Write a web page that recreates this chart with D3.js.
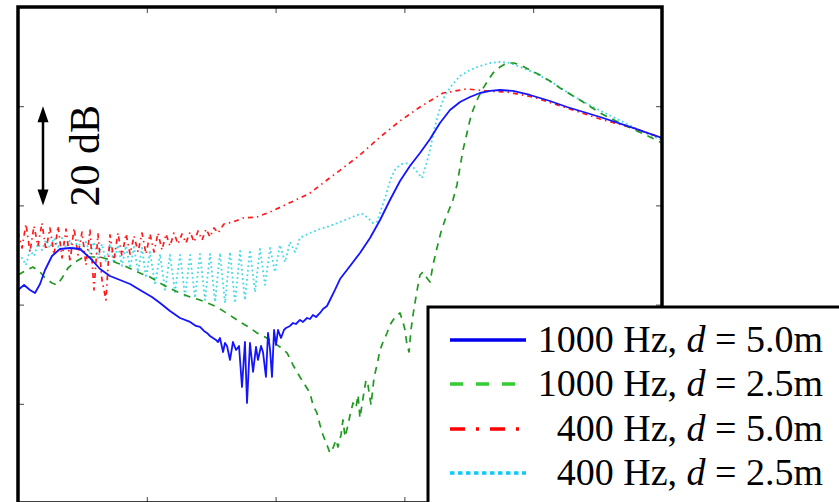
<!DOCTYPE html>
<html>
<head>
<meta charset="utf-8">
<script src="https://cdn.jsdelivr.net/npm/d3@7"></script>
<style>
  html, body { margin: 0; padding: 0; background: #fff; overflow: hidden; }
  svg { display: block; font-family: 'Liberation Serif', 'Times New Roman', serif; }
</style>
</head>
<body>
<svg id="chart" width="839" height="502"></svg>
<script>
// 1000 Hz, d = 5.0m
const blueX = [0, 0.047, 0.093, 0.132, 0.171, 0.210, 0.264, 0.326, 0.404, 0.481, 0.559, 0.637, 0.714, 0.792, 0.870, 0.947,
  1.040, 1.103, 1.180, 1.258, 1.336, 1.382, 1.413, 1.444, 1.467, 1.491, 1.514, 1.537, 1.553, 1.568, 1.592, 1.607, 1.623,
  1.646, 1.669, 1.693, 1.716, 1.739, 1.762, 1.778, 1.801, 1.825, 1.848, 1.863, 1.887, 1.902, 1.925, 1.941, 1.957, 1.972,
  1.988, 2.003, 2.019, 2.042, 2.065, 2.081, 2.112, 2.135, 2.158, 2.189, 2.213, 2.244, 2.267, 2.290, 2.314, 2.345, 2.368,
  2.399, 2.430, 2.461, 2.500, 2.578, 2.655, 2.733, 2.811, 2.888, 2.966, 3.043, 3.121, 3.199, 3.276, 3.354, 3.432, 3.509,
  3.587, 3.665, 3.742, 3.843, 3.975, 4.130, 4.262, 4.519, 4.775, 5.000]
const blueY = [-57.05, -56.04, -57.05, -57.66, -55.84, -53.02, -50.20, -48.79, -48.59, -48.79, -50.60, -52.82, -54.23, -55.04, -55.84, -57.05,
  -58.46, -59.67, -61.29, -62.70, -63.50, -64.31, -64.51, -65.32, -65.72, -66.33, -66.73, -67.13, -67.54, -66.73, -69.55, -67.74, -68.34,
  -71.16, -67.54, -69.15, -68.34, -76.61, -67.54, -79.83, -67.74, -73.58, -68.54, -71.16, -68.34, -69.55, -74.59, -65.72, -69.15, -74.59,
  -65.12, -68.14, -65.12, -66.73, -65.12, -64.71, -64.31, -63.71, -63.91, -63.10, -63.50, -62.70, -62.90, -62.09, -62.50, -61.69, -60.88,
  -60.28, -58.67, -57.05, -54.84, -52.21, -49.59, -46.57, -42.94, -38.91, -35.08, -32.05, -29.43, -26.61, -23.39, -20.76, -19.15, -18.14,
  -17.34, -16.93, -16.73, -16.93, -17.74, -18.95, -20.16, -22.18, -24.39, -26.41]

// 1000 Hz, d = 2.5m
const greenX = [0, 0.054, 0.116, 0.171, 0.210, 0.264, 0.303, 0.342, 0.388, 0.443, 0.497, 0.559, 0.637, 0.714, 0.769, 0.831,
  0.893, 0.963, 1.025, 1.103, 1.157, 1.258, 1.336, 1.413, 1.491, 1.545, 1.630, 1.724, 1.801, 1.856, 1.918, 1.957, 2.034,
  2.089, 2.135, 2.189, 2.228, 2.267, 2.290, 2.321, 2.345, 2.368, 2.399, 2.422, 2.446, 2.469, 2.484, 2.508, 2.523, 2.539,
  2.562, 2.578, 2.601, 2.624, 2.640, 2.655, 2.679, 2.702, 2.717, 2.741, 2.764, 2.787, 2.811, 2.834, 2.865, 2.888, 2.912,
  2.935, 2.966, 2.989, 3.005, 3.020, 3.036, 3.051, 3.067, 3.082, 3.106, 3.121, 3.144, 3.175, 3.199, 3.222, 3.253, 3.284,
  3.315, 3.346, 3.377, 3.408, 3.432, 3.455, 3.486, 3.509, 3.533, 3.571, 3.603, 3.641, 3.688, 3.742, 3.797, 3.851, 3.898,
  3.975, 4.053, 4.130, 4.208, 4.363, 4.519, 4.674, 4.806, 4.907, 5.000]
const greenY = [-54.03, -53.22, -52.42, -53.42, -54.63, -55.64, -56.04, -54.63, -52.62, -51.41, -50.60, -50.40, -50.40, -51.00, -51.61, -52.21,
  -53.02, -53.83, -54.43, -55.64, -56.45, -57.66, -58.46, -59.07, -59.88, -60.48, -61.89, -63.50, -64.71, -65.72, -66.53, -67.13, -68.54,
  -69.75, -72.17, -74.59, -76.20, -77.82, -80.24, -81.85, -84.27, -86.28, -88.30, -89.91, -88.91, -87.29, -88.70, -86.28, -83.26, -86.69,
  -84.27, -82.25, -79.83, -80.84, -78.22, -82.86, -78.83, -75.20, -76.20, -80.24, -74.79, -72.17, -69.15, -67.54, -65.72, -64.11, -63.10,
  -62.29, -61.69, -63.50, -65.12, -68.14, -69.55, -65.12, -62.09, -59.67, -56.04, -54.03, -53.42, -54.63, -55.44, -52.01, -48.59, -45.36,
  -42.94, -40.92, -38.91, -35.88, -32.26, -28.83, -25.40, -22.78, -20.76, -18.35, -16.73, -15.12, -13.31, -12.10, -11.29, -11.29, -11.69,
  -12.70, -13.71, -14.92, -16.33, -18.75, -21.37, -23.39, -25.00, -26.21, -27.42]

// 400 Hz, d = 5.0m
const redX = [0, 0.031, 0.062, 0.093, 0.124, 0.155, 0.186, 0.217, 0.248, 0.280, 0.311, 0.342, 0.373, 0.404, 0.435, 0.466,
  0.497, 0.528, 0.559, 0.590, 0.621, 0.652, 0.683, 0.714, 0.745, 0.776, 0.807, 0.839, 0.870, 0.901, 0.932, 0.963, 0.994,
  1.025, 1.056, 1.087, 1.118, 1.149, 1.180, 1.211, 1.242, 1.273, 1.304, 1.336, 1.367, 1.398, 1.429, 1.460, 1.491, 1.522,
  1.553, 1.599, 1.669, 1.747, 1.856, 1.957, 2.057, 2.189, 2.267, 2.399, 2.523, 2.655, 2.811, 2.966, 3.121, 3.300, 3.486,
  3.641, 3.797, 3.998, 4.262, 4.519, 4.775, 5.000]
const redY = [-45.36, -48.59, -43.75, -49.39, -44.15, -48.18, -43.55, -48.99, -44.55, -50.00, -44.15, -50.60, -44.76, -51.41, -44.55, -50.00,
  -45.36, -52.01, -44.96, -57.05, -45.76, -55.04, -59.07, -45.96, -51.00, -45.56, -50.20, -45.76, -49.80, -46.17, -49.39, -45.56, -49.80,
  -45.76, -49.39, -45.56, -48.99, -45.76, -48.18, -45.56, -47.78, -45.76, -47.58, -45.36, -47.38, -45.16, -46.97, -44.76, -46.37, -44.55,
  -45.56, -43.75, -43.34, -42.54, -42.34, -41.33, -40.12, -38.51, -37.50, -34.88, -32.46, -29.84, -26.21, -22.98, -20.16, -17.34, -16.53,
  -16.93, -17.14, -18.14, -20.36, -22.58, -24.39, -26.41]

// 400 Hz, d = 2.5m
const cyanX = [0, 0.031, 0.062, 0.093, 0.124, 0.155, 0.186, 0.217, 0.248, 0.280, 0.311, 0.342, 0.373, 0.404, 0.435, 0.466,
  0.497, 0.528, 0.559, 0.590, 0.621, 0.652, 0.683, 0.714, 0.745, 0.776, 0.807, 0.839, 0.870, 0.901, 0.932, 0.963, 0.994,
  1.025, 1.064, 1.103, 1.141, 1.180, 1.219, 1.258, 1.297, 1.336, 1.374, 1.413, 1.452, 1.491, 1.530, 1.568, 1.607, 1.646,
  1.685, 1.724, 1.762, 1.801, 1.840, 1.879, 1.918, 1.957, 1.995, 2.034, 2.073, 2.112, 2.151, 2.189, 2.267, 2.345, 2.422,
  2.500, 2.578, 2.632, 2.679, 2.717, 2.756, 2.787, 2.818, 2.857, 2.896, 2.935, 2.981, 3.028, 3.067, 3.106, 3.137, 3.168,
  3.199, 3.230, 3.268, 3.315, 3.370, 3.432, 3.509, 3.587, 3.665, 3.742, 3.820, 3.898, 4.014, 4.154, 4.309, 4.464, 4.620,
  4.775, 4.907, 5.000]
const cyanY = [-51.41, -50.60, -52.01, -48.99, -50.20, -47.78, -48.99, -46.97, -48.59, -46.57, -48.38, -46.57, -48.59, -46.97, -48.99, -46.97,
  -49.39, -47.38, -49.80, -47.38, -50.60, -47.78, -51.41, -47.78, -51.61, -47.98, -52.21, -48.18, -52.62, -48.38, -53.42, -48.59, -54.63,
  -49.39, -56.04, -49.80, -57.05, -50.00, -57.46, -50.00, -58.26, -50.00, -58.67, -49.80, -59.07, -49.80, -59.47, -49.59, -59.67, -49.39,
  -59.67, -49.19, -59.07, -48.99, -57.46, -48.79, -56.04, -48.59, -53.42, -47.98, -51.41, -47.38, -49.39, -46.57, -45.56, -44.76, -44.15,
  -43.34, -42.54, -41.93, -41.73, -42.54, -43.55, -43.34, -40.92, -37.90, -34.47, -32.46, -31.65, -31.45, -32.26, -33.47, -34.47, -31.85,
  -28.83, -24.80, -21.17, -17.74, -15.72, -13.91, -12.70, -11.89, -11.29, -11.09, -11.29, -12.10, -13.31, -15.32, -17.94, -20.16, -22.18,
  -24.19, -25.81, -26.81]

const xTicks = [1, 2, 3, 4]
const yTicks = [-80, -60, -40, -20]
const legendLabels = ['1000 Hz, ', '1000 Hz, ', '400 Hz, ', '400 Hz, ']
const legendDist = ['5.0m', '2.5m', '5.0m', '2.5m']

const series = [
  { xs: blueX, ys: blueY, color: '#1414ff', key: '#0000ee', dash: null, keyDash: null, w: 1.8 },
  { xs: greenX, ys: greenY, color: '#1f991f', key: '#33cc33', dash: '7,6', keyDash: '13,13', w: 1.7 },
  { xs: redX, ys: redY, color: '#ff1a1a', key: '#ff0000', dash: '5,4,1.5,4', keyDash: '15,11,3,11', w: 1.7 },
  { xs: cyanX, ys: cyanY, color: '#44d8e8', key: '#11c8f8', dash: '1.8,2.8', keyDash: '4.5,3.5', w: 1.8 }
]

const svg = d3.select('#chart')
const margin = { left: 18, top: 7, right: 662, bottom: 503 }

const x = d3.scaleLinear().domain([0, 5]).range([margin.left, margin.right])
const y = d3.scaleLinear().domain([-100, 0]).range([margin.bottom, margin.top])

svg.append('defs').append('clipPath').attr('id', 'plotClip')
  .append('rect')
  .attr('x', margin.left).attr('y', margin.top)
  .attr('width', margin.right - margin.left).attr('height', margin.bottom - margin.top)

// curves
const line = d3.line().x(d => x(d[0])).y(d => y(d[1]))
const curves = svg.append('g').attr('clip-path', 'url(#plotClip)')
series.slice().reverse().forEach(s => {
  curves.append('path')
    .datum(s.xs.map((v, i) => [v, s.ys[i]]))
    .attr('d', line)
    .attr('fill', 'none')
    .attr('stroke', s.color)
    .attr('stroke-width', s.w)
    .attr('stroke-dasharray', s.dash)
    .attr('stroke-linejoin', 'round')
})

// inward ticks on all four sides, no labels
const tickLen = -6
function styleAxis (g) {
  g.select('.domain').remove()
  g.selectAll('.tick line').attr('stroke', '#444').attr('stroke-width', 1)
}
svg.append('g').attr('transform', `translate(0,${margin.bottom})`)
  .call(d3.axisBottom(x).tickValues(xTicks).tickSize(tickLen).tickFormat('')).call(styleAxis)
svg.append('g').attr('transform', `translate(0,${margin.top})`)
  .call(d3.axisTop(x).tickValues(xTicks).tickSize(tickLen).tickFormat('')).call(styleAxis)
svg.append('g').attr('transform', `translate(${margin.left},0)`)
  .call(d3.axisLeft(y).tickValues(yTicks).tickSize(tickLen).tickFormat('')).call(styleAxis)
svg.append('g').attr('transform', `translate(${margin.right},0)`)
  .call(d3.axisRight(y).tickValues(yTicks).tickSize(tickLen).tickFormat('')).call(styleAxis)

// frame
svg.append('rect')
  .attr('x', margin.left).attr('y', margin.top)
  .attr('width', margin.right - margin.left).attr('height', margin.bottom - margin.top)
  .attr('fill', 'none').attr('stroke', '#000').attr('stroke-width', 3.5)

// 20 dB scale arrow (one tick interval)
const arrowX = 43
const yTop = y(-20)
const yBot = y(-40)
svg.append('line')
  .attr('x1', arrowX).attr('x2', arrowX)
  .attr('y1', yTop + 10).attr('y2', yBot - 10)
  .attr('stroke', '#000').attr('stroke-width', 2.5)
svg.append('path')
  .attr('d', `M${arrowX},${yTop} L${arrowX - 5.5},${yTop + 16} L${arrowX + 5.5},${yTop + 16} Z`)
  .attr('fill', '#000')
svg.append('path')
  .attr('d', `M${arrowX},${yBot} L${arrowX - 5.5},${yBot - 16} L${arrowX + 5.5},${yBot - 16} Z`)
  .attr('fill', '#000')
svg.append('text')
  .attr('transform', `translate(99,${(yTop + yBot) / 2}) rotate(-90)`)
  .attr('text-anchor', 'middle')
  .attr('font-size', 42)
  .text('20 dB')

// legend
const legend = svg.append('g')
legend.append('rect')
  .attr('x', 428).attr('y', 307).attr('width', 430).attr('height', 220)
  .attr('fill', '#fff').attr('stroke', '#000').attr('stroke-width', 3)

const rowY = [340, 384, 429, 473]
series.forEach((s, i) => {
  legend.append('line')
    .attr('x1', 450).attr('x2', 526)
    .attr('y1', rowY[i]).attr('y2', rowY[i])
    .attr('stroke', s.key).attr('stroke-width', 3.5)
    .attr('stroke-dasharray', s.keyDash)
  const t = legend.append('text')
    .attr('x', 823).attr('y', rowY[i] + 12)
    .attr('text-anchor', 'end')
    .attr('font-size', 38)
  t.append('tspan').text(legendLabels[i])
  t.append('tspan').attr('font-style', 'italic').text('d')
  t.append('tspan').text(' = ' + legendDist[i])
})
</script>
</body>
</html>
